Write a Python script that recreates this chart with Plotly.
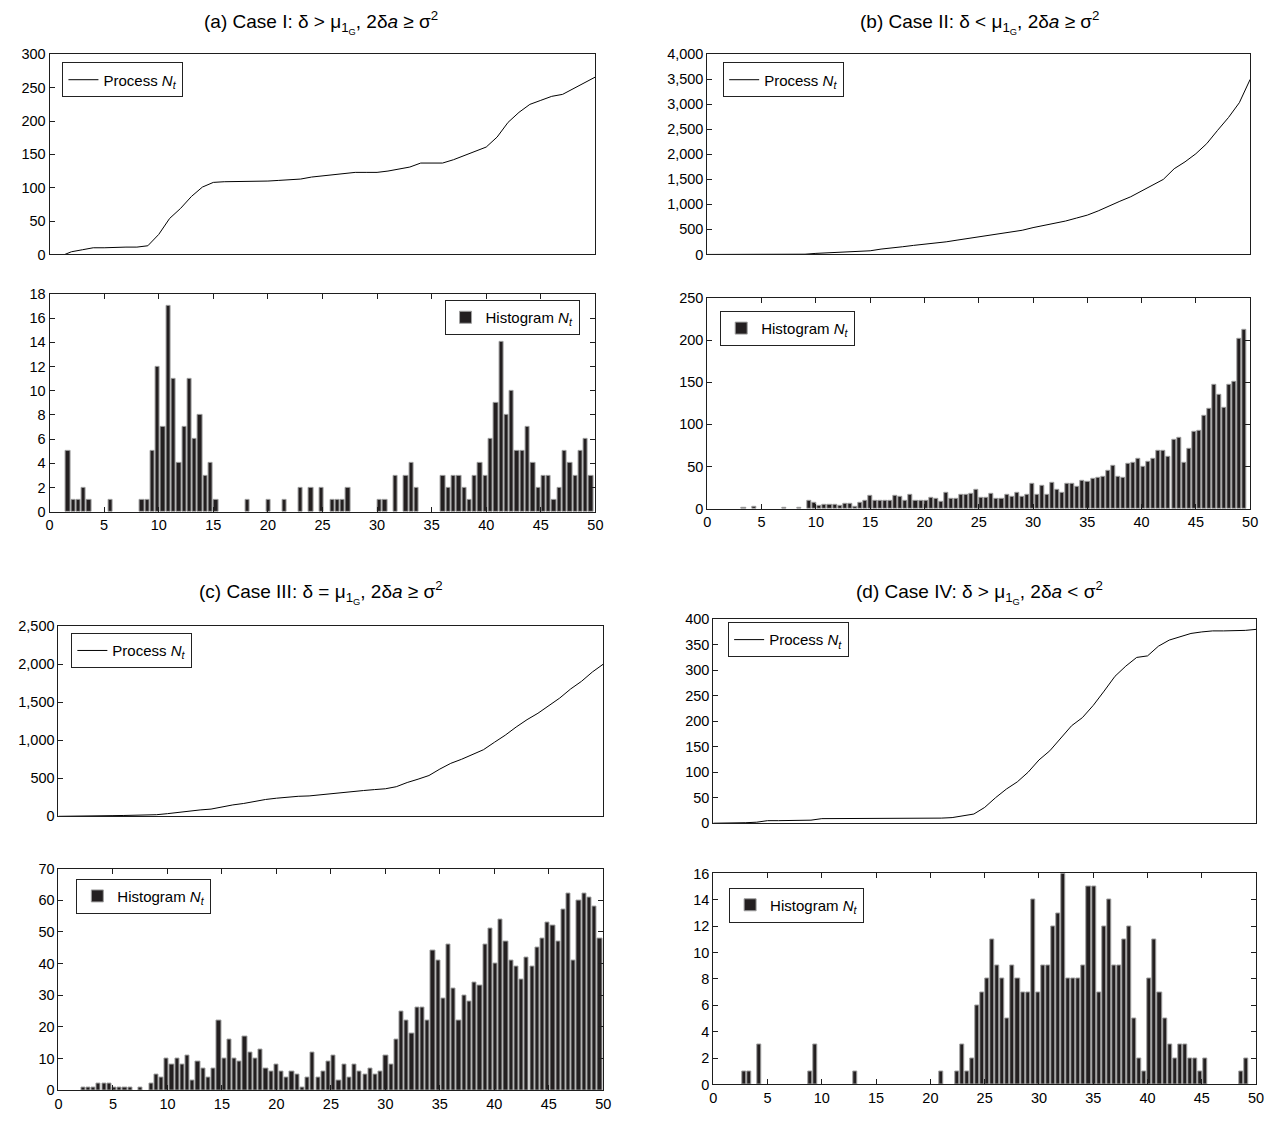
import plotly.graph_objects as go
import numpy as np

W, H = 1276, 1123

# ---------------- data ----------------
# Panel (a) histogram: 100 bins, counts per bin
a_counts = [5, 1, 1, 2, 1, 0, 0, 0, 1, 0,
            0, 0, 0, 0, 1, 1, 5, 12, 7, 17,
            11, 4, 7, 11, 6, 8, 3, 4, 1, 0,
            0, 0, 0, 0, 1, 0, 0, 0, 1, 0,
            0, 1, 0, 0, 2, 0, 2, 0, 2, 0,
            1, 1, 1, 2, 0, 0, 0, 0, 0, 1,
            1, 0, 3, 0, 3, 4, 2, 0, 0, 0,
            0, 3, 2, 3, 3, 2, 1, 3, 4, 3,
            6, 9, 14, 8, 10, 5, 5, 7, 4, 2,
            3, 3, 1, 2, 5, 4, 3, 5, 6, 3]
a_bin_first, a_bin_step = 1.69, 0.484

a_line_t = [1.4, 2, 3, 4, 5, 6, 7, 8, 9, 10, 11, 12, 13, 14, 15, 16, 17, 18, 19, 20,
            21, 22, 23, 24, 25, 26, 27, 28, 29, 30, 31, 32, 33, 34, 35, 36, 37, 38, 39, 40,
            41, 42, 43, 44, 45, 46, 47, 48, 49, 50]
a_line_n = [0, 4, 7, 10, 10, 11, 11, 11, 13, 30, 54, 69, 87, 101, 108, 109, 109, 109, 110, 110,
            111, 112, 113, 116, 118, 119, 121, 123, 123, 123, 125, 128, 131, 137, 137, 137, 142, 148, 154, 161,
            176, 198, 213, 225, 231, 237, 240, 249, 257, 266]

# Panel (b)
b_counts = [1, 0, 2, 0, 0, 0, 0, 0, 1, 0,
            0, 1, 0, 9, 7, 3, 5, 5, 5, 4,
            6, 6, 2, 7, 9, 15, 10, 9, 9, 9,
            15, 14, 10, 17, 9, 10, 10, 13, 12, 8,
            19, 12, 12, 17, 16, 18, 22, 13, 13, 18,
            12, 12, 16, 14, 19, 14, 17, 29, 16, 27,
            17, 31, 22, 19, 29, 30, 26, 33, 32, 36,
            37, 38, 45, 51, 38, 37, 53, 54, 59, 50,
            56, 59, 69, 69, 62, 82, 84, 54, 71, 91,
            92, 110, 119, 147, 135, 120, 147, 150, 201, 212]
b_bin_first, b_bin_step = 3.36, 0.466

b_line_t = list(range(0, 51))
b_line_n = [0, 0, 0, 0, 1, 3, 3, 3, 4, 5, 21, 29, 39, 49, 57, 73, 107, 125, 154, 181,
            200, 223, 252, 286, 319, 359, 385, 415, 443, 483, 536, 579, 627, 668, 727, 786, 870, 974, 1063, 1153,
            1266, 1372, 1500, 1713, 1851, 2013, 2215, 2481, 2736, 3033, 3500]

# Panel (c)
c_counts = [1, 1, 1, 2, 2, 2, 1, 1, 1, 1,
            0, 1, 0, 2, 5, 4, 10, 8, 10, 8,
            11, 3, 9, 7, 4, 7, 22, 10, 16, 10,
            9, 17, 12, 10, 13, 7, 6, 8, 6, 4,
            6, 5, 1, 4, 12, 4, 6, 9, 11, 3,
            8, 4, 8, 6, 5, 7, 5, 6, 11, 8,
            16, 25, 22, 18, 26, 26, 22, 44, 41, 29,
            46, 32, 22, 30, 28, 34, 33, 46, 51, 40,
            54, 47, 41, 39, 35, 42, 39, 45, 48, 53,
            52, 47, 57, 62, 41, 60, 62, 61, 58, 48]
c_bin_first, c_bin_step = 2.27, 0.479

c_line_t = list(range(0, 51))
c_line_n = [0, 0, 0, 2, 5, 9, 11, 13, 14, 21, 35, 53, 72, 84, 95, 124, 150, 169, 198, 221,
            238, 252, 263, 268, 284, 299, 313, 325, 339, 351, 362, 389, 444, 488, 536, 621, 696, 750, 808, 875,
            972, 1066, 1173, 1270, 1354, 1455, 1554, 1673, 1774, 1897, 2000]

# Panel (d)
d_counts = [1, 1, 0, 3, 0, 0, 0, 0, 0, 0,
            0, 0, 0, 1, 3, 0, 0, 0, 0, 0,
            0, 0, 1, 0, 0, 0, 0, 0, 0, 0,
            0, 0, 0, 0, 0, 0, 0, 0, 0, 1,
            0, 0, 1, 3, 1, 2, 6, 7, 8, 11,
            9, 8, 5, 9, 8, 7, 7, 14, 7, 9,
            9, 12, 13, 16, 8, 8, 8, 9, 15, 15,
            7, 12, 14, 9, 9, 11, 12, 5, 2, 1,
            8, 11, 7, 5, 3, 2, 3, 3, 2, 2,
            1, 2, 0, 0, 0, 0, 0, 0, 1, 2]
d_bin_first, d_bin_step = 2.83, 0.467

d_line_t = list(range(0, 51))
d_line_n = [0, 0, 0, 1, 2, 5, 5, 5, 5, 6, 9, 9, 9, 9, 10, 10, 10, 10, 10, 10,
            10, 10, 11, 15, 18, 31, 50, 67, 81, 100, 124, 142, 167, 191, 207, 231, 259, 288, 308, 325,
            328, 347, 359, 366, 372, 375, 377, 377, 377, 378, 380]

titles = [
    "(a) Case I: δ > μ<sub>1<sub>G</sub></sub>, 2δ<i>a</i> ≥ σ<sup>2</sup>",
    "(b) Case II: δ < μ<sub>1<sub>G</sub></sub>, 2δ<i>a</i> ≥ σ<sup>2</sup>",
    "(c) Case III: δ = μ<sub>1<sub>G</sub></sub>, 2δ<i>a</i> ≥ σ<sup>2</sup>",
    "(d) Case IV: δ > μ<sub>1<sub>G</sub></sub>, 2δ<i>a</i> < σ<sup>2</sup>",
]
line_name = "Process <i>N<sub>t</sub></i>"
hist_name = "Histogram <i>N<sub>t</sub></i>"

# ---------------- layout geometry (pixels) ----------------
# (left, right, top, bottom)
boxes = [
    (46, 597, 47, 250), (46, 597, 290, 511),      # a
    (710, 1258, 47, 250), (710, 1258, 294, 508),  # b
    (55, 605, 627, 820), (55, 605, 873, 1098),    # c
    (716, 1264, 620, 827), (716, 1264, 878, 1092) # d
]
yranges = [(0, 300, 50), (0, 18, 2), (0, 4000, 500), (0, 250, 50),
           (0, 2500, 500), (0, 70, 10), (0, 400, 50), (0, 16, 2)]
title_pos = [(320, 15), (985, 15), (320, 593), (985, 593)]
# legend anchor (x, y-center, xanchor) in px
legend_pos = [(59, 73, "left"), (581, 314, "right"), (726, 73, "left"), (723, 325, "left"),
              (68, 652, "left"), (73, 901, "left"), (731, 641, "left"), (732, 910, "left")]

FONT = "Liberation Sans, Arial, Helvetica, sans-serif"
AXC = "#1e1e1e"
TICKSIZE = 14.5

fig = go.Figure()

panels = [
    (a_line_t, a_line_n, a_counts, a_bin_first, a_bin_step),
    (b_line_t, b_line_n, b_counts, b_bin_first, b_bin_step),
    (c_line_t, c_line_n, c_counts, c_bin_first, c_bin_step),
    (d_line_t, d_line_n, d_counts, d_bin_first, d_bin_step),
]

for p, (lt, ln, cnt, bf, bs) in enumerate(panels):
    i_line = 2 * p + 1
    i_hist = 2 * p + 2
    sfx_l = "" if i_line == 1 else str(i_line)
    sfx_h = str(i_hist)
    fig.add_trace(go.Scatter(
        x=lt, y=ln, mode="lines", name=line_name,
        line=dict(color="black", width=1),
        xaxis="x" + sfx_l, yaxis="y" + sfx_l,
        legend="legend" + sfx_l, showlegend=True))
    centers = bf + bs * np.arange(len(cnt))
    yvals = [c if c > 0 else None for c in cnt]
    fig.add_trace(go.Bar(
        x=centers, y=yvals, name=hist_name, width=bs * 0.8,
        marker=dict(color="#231f20", line=dict(color="#a0a0a0", width=1)),
        xaxis="x" + sfx_h, yaxis="y" + sfx_h,
        legend="legend" + sfx_h, showlegend=True))

layout = dict(
    width=W, height=H, margin=dict(l=0, r=0, t=0, b=0),
    paper_bgcolor="white", plot_bgcolor="white",
    font=dict(family=FONT, size=TICKSIZE, color="black"),
    bargap=0, barmode="overlay",
)

for i, (l, r, t, b) in enumerate(boxes):
    n = i + 1
    sfx = "" if n == 1 else str(n)
    is_hist = (i % 2 == 1)
    y0, y1, dt = yranges[i]
    layout["xaxis" + sfx] = dict(
        domain=[l / W, r / W], range=[0, 50], anchor="y" + sfx,
        showline=True, linecolor=AXC, linewidth=1, mirror="ticks" if is_hist else True,
        ticks="inside" if is_hist else "", ticklen=5, tickcolor=AXC,
        tick0=0, dtick=5, showticklabels=is_hist, showgrid=False, zeroline=False,
        tickfont=dict(size=TICKSIZE, family=FONT))
    layout["yaxis" + sfx] = dict(
        domain=[1 - b / H, 1 - t / H], range=[y0, y1], anchor="x" + sfx,
        showline=True, linecolor=AXC, linewidth=1, mirror="ticks" if is_hist else True,
        ticks="inside", ticklen=5, tickcolor=AXC,
        tick0=0, dtick=dt, tickformat=",d", showgrid=False, zeroline=False,
        tickfont=dict(size=TICKSIZE, family=FONT))
    lx, ly, xa = legend_pos[i]
    layout["legend" + sfx] = dict(
        x=lx / W, y=1 - ly / H, xanchor=xa, yanchor="middle",
        bgcolor="white", bordercolor="#222", borderwidth=1,
        font=dict(size=15, family=FONT, color="black"),
        itemwidth=30, tracegroupgap=0)

annotations = []
for (tx, ty), txt in zip(title_pos, titles):
    annotations.append(dict(
        x=tx / W, y=1 - ty / H, xref="paper", yref="paper",
        text=txt, showarrow=False, xanchor="center", yanchor="middle",
        font=dict(size=19, family=FONT, color="black")))
layout["annotations"] = annotations

fig.update_layout(**layout)
fig.write_html("out.html")
